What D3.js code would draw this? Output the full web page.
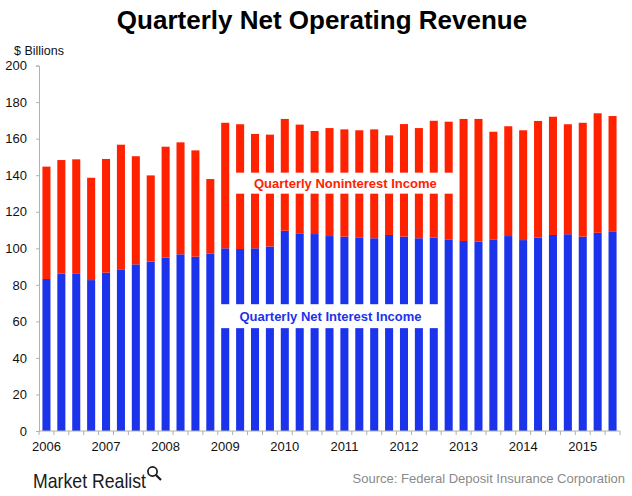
<!DOCTYPE html>
<html>
<head>
<meta charset="utf-8">
<script src="https://cdn.jsdelivr.net/npm/d3@7"></script>
<style>
  html, body { margin: 0; padding: 0; background: #fff; }
  svg { display: block; font-family: "Liberation Sans", Arial, sans-serif; }
</style>
</head>
<body>
<svg id="chart" width="632" height="496"></svg>
<script>
// ---- Data ----
const years = ["2006","2007","2008","2009","2010","2011","2012","2013","2014","2015"];
const quarters = [];
years.forEach(y => ["Q1","Q2","Q3","Q4"].forEach(q => quarters.push(y + " " + q)));
const categories = quarters.slice(0, 39); // 2006 Q1 .. 2015 Q3

const netInterestIncome = [
  83.2, 86.1, 86.0, 82.6, 86.7, 88.5, 91.2, 92.7,
  94.9, 96.7, 95.4, 97.2, 100.0, 99.6, 100.0, 101.0,
  109.6, 108.2, 107.8, 106.7, 106.4, 106.0, 105.5, 107.3,
  106.4, 105.5, 105.8, 104.9, 104.0, 103.6, 104.9, 106.7,
  104.5, 105.8, 107.3, 107.7, 106.4, 108.5, 109.3
];
const totalRevenue = [
  144.7, 148.3, 148.7, 138.6, 148.9, 156.7, 150.4, 139.9,
  155.6, 158.0, 153.6, 137.9, 168.7, 167.9, 162.6, 162.2,
  170.8, 167.7, 164.2, 165.8, 165.1, 164.6, 165.1, 161.8,
  168.0, 165.8, 169.8, 169.3, 170.8, 170.8, 163.8, 166.8,
  164.6, 169.7, 172.0, 167.9, 168.7, 173.9, 172.4
];
const nonInterestIncome = totalRevenue.map((t, i) => +(t - netInterestIncome[i]).toFixed(1));
const yTicks = [0, 20, 40, 60, 80, 100, 120, 140, 160, 180, 200];

// ---- Layout ----
const svg = d3.select("#chart");
const pLeft = 39, pRight = 620, pTop = 65.6, pBottom = 431;
const RED = "#ff2200", BLUE = "#1c33ec";

const x = d3.scaleBand().domain(categories).range([pLeft, pRight])
  .paddingInner(0.46).paddingOuter(0.23);
const y = d3.scaleLinear().domain([0, 200]).range([pBottom, pTop]);

// Title
svg.append("text").attr("x", 322).attr("y", 29).attr("text-anchor", "middle")
  .attr("font-size", 26).attr("font-weight", "bold").attr("fill", "#000")
  .text("Quarterly Net Operating Revenue");

svg.append("text").attr("x", 14).attr("y", 55).attr("font-size", 12.5).attr("fill", "#111")
  .text("$ Billions");

// Bars
const g = svg.append("g");
g.selectAll("rect.ni").data(categories).enter().append("rect")
  .attr("class", "ni")
  .attr("x", d => x(d)).attr("width", x.bandwidth())
  .attr("y", (d, i) => y(netInterestIncome[i]))
  .attr("height", (d, i) => y(0) - y(netInterestIncome[i]))
  .attr("fill", BLUE);
g.selectAll("rect.nonint").data(categories).enter().append("rect")
  .attr("class", "nonint")
  .attr("x", d => x(d)).attr("width", x.bandwidth())
  .attr("y", (d, i) => y(netInterestIncome[i] + nonInterestIncome[i]))
  .attr("height", (d, i) => y(netInterestIncome[i]) - y(netInterestIncome[i] + nonInterestIncome[i]))
  .attr("fill", RED);

// Y axis
const yAxis = d3.axisLeft(y).tickValues(yTicks).tickSize(3).tickPadding(9);
const ya = svg.append("g").attr("transform", `translate(${pLeft},0)`).call(yAxis);
ya.select(".domain").attr("stroke", "#b0b0b0");
ya.selectAll(".tick line").attr("stroke", "#b0b0b0");
ya.selectAll(".tick text").attr("font-size", 13).attr("fill", "#111")
  .attr("font-family", "'Liberation Sans', Arial, sans-serif");

// X axis: line + ticks at band boundaries
const boundaries = d3.range(categories.length + 1).map(i => pLeft + i * (pRight - pLeft) / categories.length);
svg.append("line").attr("x1", pLeft).attr("x2", pRight).attr("y1", pBottom).attr("y2", pBottom)
  .attr("stroke", "#b0b0b0");
svg.selectAll("line.xt").data(boundaries).enter().append("line")
  .attr("class", "xt").attr("x1", d => d).attr("x2", d => d)
  .attr("y1", pBottom).attr("y2", pBottom + 4).attr("stroke", "#b0b0b0");
svg.selectAll("text.yr").data(years).enter().append("text")
  .attr("class", "yr")
  .attr("x", d => x(d + " Q1") + x.bandwidth() / 2)
  .attr("y", 451).attr("text-anchor", "middle")
  .attr("font-size", 13).attr("fill", "#111").text(d => d);

// Series labels
function seriesLabel(i0, i1, v0, v1, text, color, dxL, dxR) {
  const x0 = x(categories[i0]) + dxL, x1 = x(categories[i1]) + x.bandwidth() + dxR;
  svg.append("rect").attr("x", x0).attr("y", y(v0)).attr("width", x1 - x0)
    .attr("height", y(v1) - y(v0)).attr("fill", "#fff");
  svg.append("text").attr("x", (x0 + x1) / 2).attr("y", (y(v0) + y(v1)) / 2 + 4.6)
    .attr("text-anchor", "middle").attr("font-size", 13).attr("font-weight", "bold")
    .attr("fill", color).text(text);
}
seriesLabel(13, 27, 141.4, 129.9, "Quarterly Noninterest Income", RED, -1, 3);
seriesLabel(12, 26, 69.4, 56.3, "Quarterly Net Interest Income", BLUE, -1.5, 3.5);

// Footer
const logo = svg.append("g");
logo.append("text").attr("x", 33).attr("y", 488).attr("font-size", 21)
  .attr("font-family", "'Liberation Sans Narrow', 'Liberation Sans', Arial, sans-serif")
  .attr("fill", "#1a1a1a").attr("textLength", 113).attr("lengthAdjust", "spacingAndGlyphs")
  .text("Market Realist");
logo.append("circle").attr("cx", 152.5).attr("cy", 471.5).attr("r", 4.6)
  .attr("fill", "none").attr("stroke", "#1a1a1a").attr("stroke-width", 1.7);
logo.append("line").attr("x1", 156).attr("y1", 475).attr("x2", 161).attr("y2", 480)
  .attr("stroke", "#1a1a1a").attr("stroke-width", 2.2);

svg.append("text").attr("x", 625).attr("y", 483).attr("text-anchor", "end")
  .attr("font-size", 13).attr("fill", "#8a8a8a")
  .text("Source: Federal Deposit Insurance Corporation");
</script>
</body>
</html>
